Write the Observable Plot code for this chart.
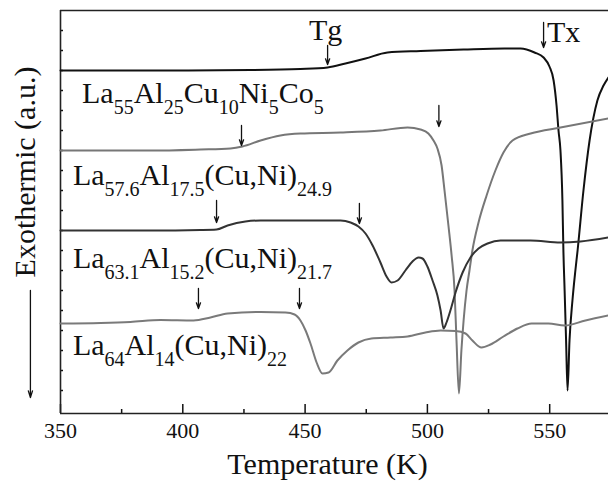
<!DOCTYPE html>
<html><head><meta charset="utf-8">
<script src="https://cdn.jsdelivr.net/npm/d3@7"></script>
<script src="https://cdn.jsdelivr.net/npm/@observablehq/plot@0.6"></script>
<style>
body{margin:0;background:#fff}
svg{font-family:"Liberation Serif","Times New Roman",serif}
</style>
</head><body><div id="chart"></div>
<script>
// Temperature (K) and heat-flow signal (a.u., exothermic down) for each alloy
const tempA = [350,386.8,427.7,448.1,459.2,466.5,474.7,483.7,497.2,514.8,531.5,538.1,543.8,547.5,549.9,551.6,552.8,553.6,554.4,555.2,555.6,556.1,556.7,557.3,558.1,559.3,560.5,561.4,563.8,566.3,569.5,572.0,574.0];
const flowA = [343,343,343.5,344.5,346,350,355,361,362.5,364,365,365,361,356,347,333,308,283,263,213,163,123,73,23,73,113,143,163,223,273,313,328,336];

const tempB = [350,386.8,407.2,419.5,424.4,431.8,439.9,448.1,464.5,480.8,491.9,497.2,500.4,502.5,504.1,505.8,507.0,508.6,509.9,511.1,511.9,512.9,513.9,514.8,516.0,517.2,518.4,520.9,524.2,527.8,531.1,534.8,542.2,554.4,574.0];
const flowB = [263,263,264,265,267,273,278,280,281,283,286,284,280,273,265,248,223,188,158,123,73,20,63,93,123,143,163,191,218,243,261,273,280,286,295];

const tempC = [350,386.8,407.2,413.8,418.3,425.6,431.8,448.1,464.5,468.6,471.8,474.7,477.6,480.8,483.3,485.3,487.8,491.0,493.9,496.4,498.0,500.0,502.1,504.1,505.4,506.6,507.8,509.4,511.5,514.4,517.6,520.9,524.6,529.9,542.2,554.4,562.6,574.0];
const flowC = [183,183,183.5,184,188,192,193,193,193,191,187,180,168,151,137,131,133,143,152,156,155,147,133,118,103,85,91,103,121,141,156,165,170,173,173,171,172,176];

const tempD = [350,366.4,378.6,390.9,404.4,411.3,418.3,431.8,442.0,445.7,448.1,450.2,452.2,454.7,457.1,459.6,463.2,467.3,471.8,477.1,484.9,491.9,499.2,505.4,511.5,515.6,518.4,522.1,525.8,531.1,536.8,542.6,549.5,556.1,564.6,574.0];
const flowD = [90,90.5,91.5,93.5,93,96,100,101.5,101,99,93,83,70,51,40,41,53,63,71,75,76,77,81,83,82.5,80,73,66,69,77,85,90,90,88,93,98];

const seriesNames = ["La55Al25Cu10Ni5Co5","La57.6Al17.5(Cu,Ni)24.9","La63.1Al15.2(Cu,Ni)21.7","La64Al14(Cu,Ni)22"];
const seriesColors = ["#111111","#777777","#333333","#7a7a7a"];

const xMajorTicks = [350,400,450,500,550];
const xMinorTicks = [375,425,475,525];
const yTicks = [23,43,63,83,103,123,143,163,183,203,223,243,263,283,303,323,343,363,383];

// Tg / Tx arrow annotations: temperature, arrow top, arrow tip (a.u.)
const arrowTemp = [459.2,547.5,424.0,504.7,413.8,472.2,406.4,447.7];
const arrowTop  = [368,391,288,308,213,210,125,125];
const arrowTip  = [349,366,268,287,191,190,105,105];

// Text annotations (left baseline position), parts: [text, isSubscript]
const labelTemp = [359.0,355.3,355.3,355.3,451.8,549.1];
const labelFlow = [310,228,145,58,373,371];
const labelParts = [
  [["La",0],["55",1],["Al",0],["25",1],["Cu",0],["10",1],["Ni",0],["5",1],["Co",0],["5",1]],
  [["La",0],["57.6",1],["Al",0],["17.5",1],["(Cu,Ni)",0],["24.9",1]],
  [["La",0],["63.1",1],["Al",0],["15.2",1],["(Cu,Ni)",0],["21.7",1]],
  [["La",0],["64",1],["Al",0],["14",1],["(Cu,Ni)",0],["22",1]],
  [["Tg",0]],
  [["Tx",0]]
];

const temps = [tempA,tempB,tempC,tempD];
const flows = [flowA,flowB,flowC,flowD];
const rows = [];
seriesNames.forEach((name,i) => temps[i].forEach((t,j) => rows.push({name, t, v: flows[i][j]})));
const arrows = arrowTemp.map((t,i) => ({t, y1: arrowTop[i], y2: arrowTip[i]}));

const xDomain = [350, 574.04];
const yDomain = [0, 403];

const plot = Plot.plot({
  width: 608, height: 499,
  marginLeft: 60, marginRight: 0, marginTop: 10, marginBottom: 86,
  style: {background: "#fff", color: "#111", fontFamily: '"Liberation Serif","Times New Roman",serif'},
  x: {domain: xDomain},
  y: {domain: yDomain},
  color: {domain: seriesNames, range: seriesColors},
  marks: [
    Plot.axisX({ticks: xMajorTicks, tickSize: 0, tickPadding: 9, fontSize: 22, label: null}),
    Plot.axisX({ticks: xMajorTicks, tickSize: -9, strokeWidth: 1.5, tickFormat: () => "", label: null}),
    Plot.axisX({ticks: xMinorTicks, tickSize: -4, strokeWidth: 1.5, tickFormat: () => "", label: null}),
    Plot.axisY({ticks: yTicks, tickSize: -3, strokeWidth: 1.5, tickFormat: () => "", label: null}),
    Plot.ruleX([xDomain[0]], {stroke: "#222", strokeWidth: 1.6}),
    Plot.ruleY([yDomain[0], yDomain[1]], {stroke: "#222", strokeWidth: 1.6}),
    Plot.line(rows, {x: "t", y: "v", z: "name", stroke: "name", strokeWidth: 2, curve: "monotone-x"}),
    Plot.arrow(arrows, {x1: "t", x2: "t", y1: "y1", y2: "y2", stroke: "#111", strokeWidth: 1.3, headLength: 7, headAngle: 40}),
    Plot.arrow([{t: 337.7, y1: 123, y2: 16}], {x1: "t", x2: "t", y1: "y1", y2: "y2", stroke: "#111", strokeWidth: 1.3, headLength: 8, headAngle: 35}),
    Plot.text(["Temperature (K)"], {frameAnchor: "bottom", dx: -7, dy: 60, fontSize: 30, fill: "#111"}),
    Plot.text(["Exothermic (a.u.)"], {frameAnchor: "left", textAnchor: "middle", rotate: -90, dx: -35, dy: -40, fontSize: 30, fill: "#111"})
  ]
});

const svg = d3.select(plot);
const sx = plot.scale("x"), sy = plot.scale("y");
labelParts.forEach((parts, i) => {
  const t = svg.append("text")
    .attr("x", sx.apply(labelTemp[i]))
    .attr("y", sy.apply(labelFlow[i]))
    .attr("text-anchor", "start")
    .attr("font-size", 30)
    .attr("fill", "#111");
  let sub = false;
  parts.forEach(([s, isSub]) => {
    const ts = t.append("tspan").text(s);
    if (isSub) {
      ts.attr("font-size", 20);
      if (!sub) ts.attr("dy", 11);
    } else if (sub) {
      ts.attr("dy", -11);
    }
    sub = !!isSub;
  });
});

document.getElementById("chart").appendChild(plot);
</script>
</body></html>
